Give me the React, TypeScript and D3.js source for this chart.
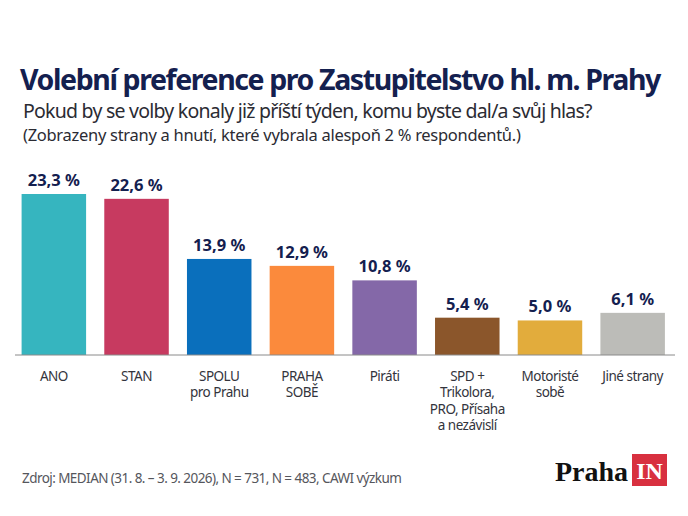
import * as d3 from 'd3';

const parties = ['ANO', 'STAN', 'SPOLU', 'PRAHA', 'Piráti', 'SPD', 'Motoristé', 'Jiné'];
const values = [23.3, 22.6, 13.9, 12.9, 10.8, 5.4, 5.0, 6.1];
const valueLabels = ['23,3 %', '22,6 %', '13,9 %', '12,9 %', '10,8 %', '5,4 %', '5,0 %', '6,1 %'];
const barColors = ['#36b5bf', '#c73a60', '#0a6fbc', '#fb8a3c', '#8468a8', '#8b562b', '#e2ac3c', '#bcbcb8'];
const categoryLines = [
  ['ANO'],
  ['STAN'],
  ['SPOLU', 'pro Prahu'],
  ['PRAHA', 'SOBĚ'],
  ['Piráti'],
  ['SPD +', 'Trikolora,', 'PRO, Přísaha', 'a nezávislí'],
  ['Motoristé', 'sobě'],
  ['Jiné strany'],
];

const navy = '#14204f';
const font = '"Noto Sans", sans-serif';

export default function App() {
  const width = 688;
  const height = 516;
  const baseline = 355;

  const x = d3.scaleBand<string>().domain(parties).range([12.5, 674]).paddingInner(0.22).paddingOuter(0.11);
  const y = d3.scaleLinear().domain([0, 23.3]).range([baseline, 194]);

  return (
    <svg
      width={width}
      height={height}
      style={{ position: 'absolute', left: 0, top: 0, background: '#fff', fontFamily: font }}
    >
      <text x={20} y={90} fontSize={28.5} fontWeight={700} fill={navy} letterSpacing={-1.4}>
        Volební preference pro Zastupitelstvo hl. m. Prahy
      </text>
      <text x={23} y={118} fontSize={19.5} fill="#2b2b33" letterSpacing={-0.76}>
        Pokud by se volby konaly již příští týden, komu byste dal/a svůj hlas?
      </text>
      <text x={23} y={141} fontSize={16.5} fill="#2b2b33" letterSpacing={-0.29}>
        (Zobrazeny strany a hnutí, které vybrala alespoň 2 % respondentů.)
      </text>

      {parties.map((p, i) => (
        <g key={p}>
          <rect
            x={x(p)}
            y={y(values[i])}
            width={x.bandwidth()}
            height={baseline - y(values[i])}
            fill={barColors[i]}
          />
          <text
            x={x(p)! + x.bandwidth() / 2}
            y={y(values[i]) - 8}
            textAnchor="middle"
            fontSize={16.5}
            fontWeight={700}
            fill={navy}
          >
            {valueLabels[i]}
          </text>
          {categoryLines[i].map((line, j) => (
            <text
              key={line}
              x={x(p)! + x.bandwidth() / 2}
              y={381 + j * 16.4}
              textAnchor="middle"
              fontSize={13.5}
              fill="#33343c"
              letterSpacing={-0.5}
            >
              {line}
            </text>
          ))}
        </g>
      ))}
      <line x1={15} x2={675} y1={baseline} y2={baseline} stroke="#8a8a8a" strokeWidth={1} />

      <text x={22} y={483} fontSize={13.5} fill="#55565c" letterSpacing={-0.56}>
        Zdroj: MEDIAN (31. 8. – 3. 9. 2026), N = 731, N = 483, CAWI výzkum
      </text>

      <text x={555} y={481} fontSize={28} fontWeight={700} fill="#111" fontFamily='"Liberation Serif", serif'>
        Praha
      </text>
      <rect x={632} y={454} width={35} height={32} fill="#d8303f" />
      <text
        x={649.5}
        y={479}
        textAnchor="middle"
        fontSize={24}
        fontWeight={700}
        fill="#fff"
        fontFamily='"Liberation Serif", serif'
      >
        IN
      </text>
    </svg>
  );
}
